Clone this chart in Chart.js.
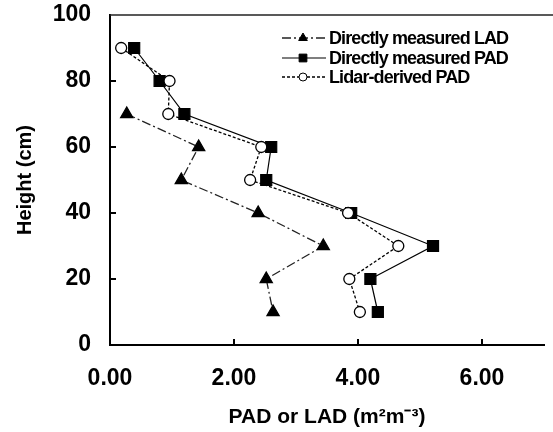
<!DOCTYPE html>
<html>
<head>
<meta charset="utf-8">
<script src="https://cdn.jsdelivr.net/npm/chart.js@4/dist/chart.umd.min.js"></script>
<style>
  html, body { margin: 0; padding: 0; background: #fff; }
  #wrap { width: 553px; height: 432px; }
</style>
</head>
<body>
<div id="wrap"><canvas id="chart" width="553" height="432"></canvas></div>
<script>
// Layer heights (cm)
const heights = [90, 80, 70, 60, 50, 40, 30, 20, 10];
const ladHeights = [70, 60, 50, 40, 30, 20, 10];
// Values (m2 m-3)
const ladValues = [0.27, 1.43, 1.15, 2.39, 3.44, 2.52, 2.63];
const padValues = [0.39, 0.80, 1.20, 2.60, 2.52, 3.89, 5.21, 4.20, 4.32];
const lidarValues = [0.18, 0.96, 0.94, 2.44, 2.26, 3.84, 4.65, 3.86, 4.03];
const xTicks = [0, 2, 4, 6];
const yTicks = [0, 20, 40, 60, 80, 100];
const seriesNames = ["Directly measured LAD", "Directly measured PAD", "Lidar-derived PAD"];

const FONT = "'Liberation Sans', Arial, sans-serif";

const toPoints = (xs, ys) => xs.map((v, i) => ({ x: v, y: ys[i] }));

// Dataset styles (also reused for the legend)
const styles = [
  { borderColor: "#222", borderWidth: 1.3, borderDash: [9, 3, 2, 3],
    pointStyle: "triangle", pointRadius: 7, pointBackgroundColor: "#000", pointBorderColor: "#000" },
  { borderColor: "#000", borderWidth: 1.2, borderDash: [],
    pointStyle: "rect", pointRadius: 7.8, pointBackgroundColor: "#000", pointBorderColor: "#000" },
  { borderColor: "#000", borderWidth: 1.3, borderDash: [3, 2],
    pointStyle: "circle", pointRadius: 5.5, pointBackgroundColor: "#fff", pointBorderColor: "#000" }
];

// Inside tick marks, top frame line and the legend
const framePlugin = {
  id: "frame",
  afterDraw(chart) {
    const ctx = chart.ctx;
    const area = chart.chartArea;
    const xs = chart.scales.x;
    const ys = chart.scales.y;
    ctx.save();
    ctx.strokeStyle = "#000";
    ctx.lineWidth = 2;
    ctx.beginPath();
    xTicks.slice(1).forEach((v) => {
      const px = Math.round(xs.getPixelForValue(v));
      ctx.moveTo(px, area.bottom);
      ctx.lineTo(px, area.bottom - 6);
    });
    yTicks.slice(1, -1).forEach((v) => {
      const py = Math.round(ys.getPixelForValue(v));
      ctx.moveTo(area.left, py);
      ctx.lineTo(area.left + 6, py);
    });
    ctx.stroke();

    ctx.lineWidth = 1.5;
    ctx.strokeStyle = "#222";
    ctx.beginPath();
    ctx.moveTo(area.left, area.top);
    ctx.lineTo(chart.width, area.top);
    ctx.stroke();

    // legend
    const rows = [38, 58, 77];
    const legendRadius = [5, 5.5, 4];
    ctx.font = "bold 18px " + FONT;
    ctx.letterSpacing = "-0.9px";
    ctx.textBaseline = "middle";
    ctx.fillStyle = "#000";
    rows.forEach((y, i) => {
      const s = styles[i];
      ctx.save();
      ctx.strokeStyle = s.borderColor;
      ctx.lineWidth = s.borderWidth;
      ctx.setLineDash(s.borderDash);
      ctx.beginPath();
      ctx.moveTo(282, y);
      ctx.lineTo(326, y);
      ctx.stroke();
      ctx.restore();
      ctx.save();
      ctx.fillStyle = s.pointBackgroundColor;
      ctx.strokeStyle = s.pointBorderColor;
      ctx.lineWidth = 1;
      Chart.helpers.drawPoint(ctx, { pointStyle: s.pointStyle, radius: legendRadius[i], rotation: 0, borderWidth: 1 }, 303, y);
      ctx.restore();
      ctx.fillText(seriesNames[i], 329, y + 1);
    });
    ctx.restore();
  }
};

const ctx = document.getElementById("chart").getContext("2d");
const chart = new Chart(ctx, {
  type: "scatter",
  data: {
    datasets: [
      Object.assign({ label: seriesNames[0], data: toPoints(ladValues, ladHeights), showLine: true, order: 2 }, styles[0]),
      Object.assign({ label: seriesNames[1], data: toPoints(padValues, heights), showLine: true, order: 1 }, styles[1]),
      Object.assign({ label: seriesNames[2], data: toPoints(lidarValues, heights), showLine: true, order: 0 }, styles[2])
    ]
  },
  options: {
    responsive: false,
    animation: false,
    devicePixelRatio: 1,
    layout: { padding: { top: 15, right: 0, left: 0, bottom: 0 } },
    plugins: {
      legend: { display: false },
      tooltip: { enabled: false }
    },
    scales: {
      x: {
        type: "linear",
        min: 0,
        max: 7,
        afterBuildTicks: (scale) => { scale.ticks = xTicks.map((v) => ({ value: v })); },
        afterFit: (scale) => { scale.height = 87; scale.paddingLeft = 0; scale.paddingRight = 0; },
        grid: { display: true, drawOnChartArea: false, drawTicks: false },
        border: { display: true, color: "#000", width: 2 },
        ticks: {
          color: "#000",
          padding: 20,
          font: { family: FONT, size: 23, weight: "bold" },
          maxRotation: 0,
          callback: (v) => Number(v).toFixed(2)
        },
        title: {
          display: true,
          text: "PAD or LAD (m²m⁻³)",
          color: "#000",
          font: { family: FONT, size: 21, weight: "bold" },
          padding: { top: 0, bottom: 2 }
        }
      },
      y: {
        type: "linear",
        min: 0,
        max: 100,
        afterBuildTicks: (scale) => { scale.ticks = yTicks.map((v) => ({ value: v })); },
        afterFit: (scale) => { scale.width = 110; scale.paddingTop = 0; scale.paddingBottom = 0; },
        grid: { display: true, drawOnChartArea: false, drawTicks: false },
        border: { display: true, color: "#000", width: 2 },
        ticks: {
          color: "#000",
          padding: 19,
          font: { family: FONT, size: 23, weight: "bold" }
        },
        title: {
          display: true,
          text: "Height (cm)",
          color: "#000",
          font: { family: FONT, size: 20, weight: "bold" },
          padding: { top: 13, bottom: 0 }
        }
      }
    }
  },
  plugins: [framePlugin]
});
</script>
</body>
</html>
